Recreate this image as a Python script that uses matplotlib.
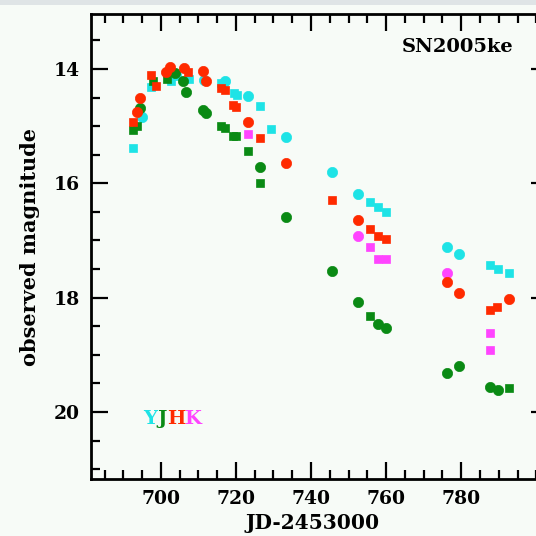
import matplotlib
matplotlib.use("Agg")
import matplotlib.pyplot as plt
from matplotlib.ticker import MultipleLocator
from matplotlib.patches import Rectangle

# ---- data (JD-2453000, observed magnitude) ----
Y_sq_t = [692.5, 697.5, 702.8, 707.5, 716.1, 719.4, 720.3, 726.3, 729.4, 755.7, 757.9, 760.0, 787.7, 789.9, 792.6]
Y_sq_m = [15.39, 14.31, 14.22, 14.18, 14.25, 14.42, 14.45, 14.65, 15.05, 16.32, 16.41, 16.50, 17.43, 17.50, 17.57]
Y_ci_t = [695.1, 704.0, 711.6, 717.0, 723.2, 733.4, 745.6, 752.6, 776.2, 779.5]
Y_ci_m = [14.84, 14.10, 14.20, 14.22, 14.47, 15.19, 15.81, 16.18, 17.11, 17.24]

J_sq_t = [692.5, 693.6, 698.0, 701.7, 716.1, 717.0, 719.2, 720.1, 723.2, 726.3, 755.7, 792.6]
J_sq_m = [15.07, 15.00, 14.22, 14.18, 15.00, 15.04, 15.17, 15.17, 15.43, 16.00, 18.32, 19.58]
J_ci_t = [694.4, 703.7, 705.8, 706.8, 711.3, 712.0, 726.3, 733.4, 745.6, 752.6, 757.9, 760.0, 776.2, 779.5, 787.7, 789.9]
J_ci_m = [14.68, 14.08, 14.22, 14.40, 14.72, 14.77, 15.72, 16.59, 17.53, 18.07, 18.46, 18.53, 19.31, 19.20, 19.56, 19.61]

H_sq_t = [692.5, 697.5, 698.7, 707.3, 716.1, 717.0, 719.2, 720.1, 726.3, 745.6, 755.7, 757.9, 760.0, 787.7, 789.5]
H_sq_m = [14.92, 14.10, 14.30, 14.06, 14.34, 14.37, 14.63, 14.67, 15.20, 16.29, 16.80, 16.93, 16.98, 18.22, 18.17]
H_ci_t = [693.6, 694.4, 701.5, 702.4, 706.1, 711.1, 712.0, 723.2, 733.4, 752.6, 776.2, 779.5, 792.6]
H_ci_m = [14.75, 14.51, 14.05, 13.96, 13.99, 14.03, 14.22, 14.92, 15.64, 16.64, 17.72, 17.91, 18.03]

K_sq_t = [723.2, 755.7, 757.9, 760.0, 787.7, 787.7]
K_sq_m = [15.14, 17.12, 17.33, 17.33, 18.61, 18.91]
K_ci_t = [752.6, 776.2]
K_ci_m = [16.93, 17.57]

band_letters = ["Y", "J", "H", "K"]
band_colors = ["#1ee3e6", "#0a8a14", "#ff2a00", "#ff44ff"]
xticks = [700, 720, 740, 760, 780]
yticks = [14, 16, 18, 20]

FONT = "DejaVu Serif"
W = H = 536
bg = "#f7fbf7"

fig = plt.figure(figsize=(W / 100, H / 100), dpi=100, facecolor=bg)
fig.patches.append(Rectangle((0, 1 - 5 / H), 1, 5 / H, transform=fig.transFigure,
                             facecolor="#dfe4e6", edgecolor="none", zorder=0))

ax = fig.add_axes([91 / W, 1 - 479 / H, 457 / W, 465 / H])
ax.set_facecolor(bg)

series = [
    (Y_sq_t, Y_sq_m, Y_ci_t, Y_ci_m, band_colors[0]),
    (J_sq_t, J_sq_m, J_ci_t, J_ci_m, band_colors[1]),
    (K_sq_t, K_sq_m, K_ci_t, K_ci_m, band_colors[3]),
    (H_sq_t, H_sq_m, H_ci_t, H_ci_m, band_colors[2]),
]
for z, (st, sm, ct, cm, col) in enumerate(series):
    ax.plot(st, sm, ls="none", marker="s", ms=6.3, mfc=col, mec=col, mew=0.5, zorder=3 + z)
    ax.plot(ct, cm, ls="none", marker="o", ms=7.4, mfc=col, mec=col, mew=0.5, zorder=3 + z)

ax.set_xlim(681.4, 803.1)
ax.set_ylim(21.17, 13.04)
ax.set_xticks(xticks)
ax.set_yticks(yticks)
ax.xaxis.set_minor_locator(MultipleLocator(5))
ax.yaxis.set_minor_locator(MultipleLocator(0.5))
ax.tick_params(which="both", direction="in", top=True, right=True, width=1.6, color="black")
ax.tick_params(which="major", length=12, pad=8, labelsize=13.5)
ax.tick_params(which="minor", length=6.5)
for lab in ax.get_xticklabels() + ax.get_yticklabels():
    lab.set_fontfamily(FONT)
    lab.set_fontweight("bold")
for s in ax.spines.values():
    s.set_linewidth(2)

def px(x, y):
    return x / W, 1 - y / H

fig.text(*px(313, 523), "JD-2453000", ha="center", va="center",
         fontsize=14.5, fontweight="bold", family=FONT)
fig.text(*px(30, 247), "observed magnitude", ha="center", va="center", rotation=90,
         fontsize=15, fontweight="bold", family=FONT)
fig.text(*px(458, 47), "SN2005ke", ha="center", va="center",
         fontsize=14, fontweight="bold", family=FONT)

letter_x = [150.5, 162.5, 176, 193]
for lx, letter, col in zip(letter_x, band_letters, band_colors):
    fig.text(*px(lx, 419), letter, ha="center", va="center", color=col,
             fontsize=14, fontweight="bold", family=FONT)

fig.savefig("out.png", dpi=100, facecolor=bg)
